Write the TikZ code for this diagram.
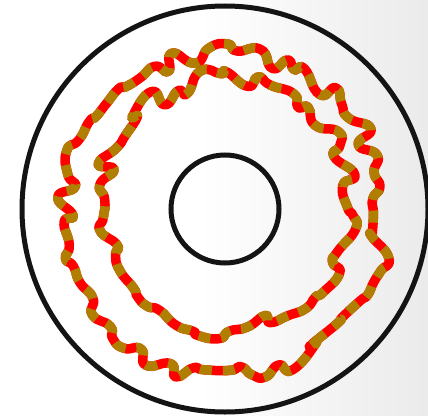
\documentclass[tikz,border=0pt]{standalone}
\definecolor{ochre}{RGB}{176,126,0}

\begin{document}
\begin{tikzpicture}[x=1pt,y=1pt,
  ring/.style={draw=black!92,line width=5pt},
  wiggle/.style={line width=9.5pt,line join=round},
  redline/.style={wiggle,draw=red,line cap=round},
  goldline/.style={wiggle,draw=ochre,dash pattern=on 12pt off 11pt}]
\useasboundingbox (0,0) rectangle (428,-415);
\fill[white] (0,0) rectangle (428,-415);
\shade[left color=white,right color=black!8] (200,0) rectangle (428,-415);
\coordinate (mid) at (225,-209);
\coordinate (outerloop) at (224,-214);
\coordinate (innerloop) at (225,-203);
% disc edges
\draw[ring] (mid) circle (203pt);
\draw[ring] (mid) circle (54pt);
% the two wavy loops, red with dashed overlay
\pgfmathsetseed{5}
\draw[redline,shift={(outerloop)}] plot[smooth cycle,tension=1,samples=68,domain=0:354.7] ({\x+5*rnd-2.5}:{148+24*rnd});
\pgfmathsetseed{5}
\draw[goldline,shift={(outerloop)}] plot[smooth cycle,tension=1,samples=68,domain=0:354.7] ({\x+5*rnd-2.5}:{148+24*rnd});
\pgfmathsetseed{8}
\draw[redline,shift={(innerloop)}] plot[smooth cycle,tension=1,samples=54,domain=0:353.3] ({\x+5*rnd-2.5}:{114+22*rnd});
\pgfmathsetseed{8}
\draw[goldline,shift={(innerloop)}] plot[smooth cycle,tension=1,samples=54,domain=0:353.3] ({\x+5*rnd-2.5}:{114+22*rnd});
\end{tikzpicture}
\end{document}
